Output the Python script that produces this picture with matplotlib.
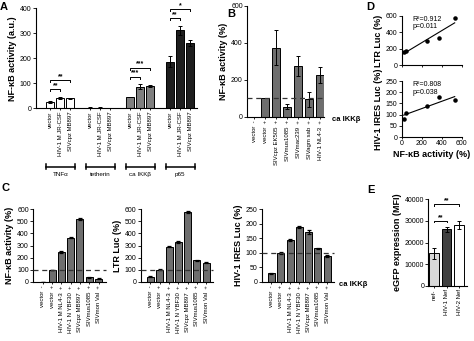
import matplotlib
matplotlib.use("Agg")
import matplotlib.pyplot as plt
import numpy as np

plt.rcParams['font.family'] = ['Liberation Sans', 'DejaVu Sans']
plt.rcParams['axes.linewidth'] = 0.8

# --- DATA ---
# panel A
a_groups = ["TNFα", "tetherin", "ca IKKβ", "p65"]
a_samples = ["vector", "HIV-1 M JR-CSF", "SIVcpz MB897"]
a_tnf = [25, 43, 40]
a_tnf_err = [4, 4, 2]
a_tetherin = [3, 3, 2]
a_tetherin_err = [0.5, 0.5, 0.5]
a_ikk = [45, 87, 90]
a_ikk_err = [1, 10, 5]
a_p65 = [187, 313, 262]
a_p65_err = [22, 18, 13]
# (group, bar i, bar j, stars)
a_sig = [(0, 0, 1, "**"), (0, 0, 2, "**"),
         (2, 0, 1, "***"), (2, 0, 2, "***"),
         (3, 0, 1, "**"), (3, 0, 2, "*")]

# panel B
b_names = ["vector", "vector", "SIVcpz EK505", "SIVmus1085",
           "SIVmac239", "SIVagm sab", "HIV-1 NL4-3"]
b_signs = ["-", "+", "+", "+", "+", "+", "+"]
b_vals = [0, 100, 375, 55, 275, 95, 225]
b_err = [0, 0, 95, 15, 55, 40, 45]

# panel C
c_names = ["vector", "vector", "HIV-1 M NL4-3", "HIV-1 N YBF30",
           "SIVcpz MB897", "SIVmus1085", "SIVmon Val"]
c_signs = ["-", "+", "+", "+", "+", "+", "+"]
c_nfkb = [0, 100, 245, 365, 520, 40, 28]
c_nfkb_err = [0, 0, 6, 4, 8, 4, 3]
c_ltr = [45, 100, 290, 330, 575, 180, 158]
c_ltr_err = [3, 3, 5, 6, 6, 4, 4]
c_ires = [30, 100, 145, 188, 172, 115, 88]
c_ires_err = [2, 4, 3, 3, 6, 2, 3]

# panel D
d_nfkb = [20, 40, 250, 370, 530]
d_ltr = [160, 170, 290, 325, 575]
d_ires = [82, 108, 137, 178, 163]
d_ltr_text = "R²=0.912\np=0.011"
d_ires_text = "R²=0.808\np=0.038"

# panel E
e_names = ["nef-", "HIV-1 Nef", "HIV-2 Nef"]
e_vals = [15000, 26000, 28000]
e_err = [2500, 1200, 2000]
e_sig = [(0, 1, "**"), (0, 2, "**")]

W, H = 474, 341
fig = plt.figure(figsize=(W / 100, H / 100), dpi=100)


def px_axes(l, t, r, b):
    ax = fig.add_axes([l / W, 1 - b / H, (r - l) / W, (b - t) / H])
    ax.spines['top'].set_visible(False)
    ax.spines['right'].set_visible(False)
    ax.tick_params(labelsize=5, length=2, width=0.6, pad=1)
    ax.tick_params(axis='x', labelsize=4.3, length=1.5)
    return ax


def sig_bracket(ax, x1, x2, y, label, tick):
    ax.plot([x1, x1, x2, x2], [y - tick, y, y, y - tick], color='black',
            lw=0.7, clip_on=False)
    ax.text((x1 + x2) / 2, y, label, ha='center', va='bottom', fontsize=5,
            fontweight='bold')


def ylab(ax, text, pad=2):
    ax.set_ylabel(text, fontsize=6.5, fontweight='bold', labelpad=pad)


def dash100(ax):
    ax.axhline(100, color='#333333', lw=0.9, ls=(0, (4, 3)), zorder=3,
               clip_on=False)


# --- PANEL A ---
ax = px_axes(35.5, 8.3, 197, 108.3)
a_data = [(a_tnf, a_tnf_err, 'white'), (a_tetherin, a_tetherin_err, 'white'),
          (a_ikk, a_ikk_err, '#7f7f7f'), (a_p65, a_p65_err, '#1e1e1e')]
ticks, labels = [], []
for g, (vals, errs, col) in enumerate(a_data):
    pos = np.arange(3) + g * 4
    ax.bar(pos, vals, width=0.8, color=col, edgecolor='black', lw=0.7,
           yerr=errs, capsize=1.5, error_kw=dict(lw=0.7, capthick=0.7))
    ticks += list(pos)
    labels += a_samples
    trans = ax.get_xaxis_transform()
    yb = -0.585
    ax.plot([pos[0] - 0.45, pos[-1] + 0.45], [yb, yb], color='black', lw=1.1,
            transform=trans, clip_on=False)
    for xe in (pos[0] - 0.45, pos[-1] + 0.45):
        ax.plot([xe, xe], [yb - 0.025, yb + 0.025], color='black', lw=1.1,
                transform=trans, clip_on=False)
    ax.text(pos[1], yb - 0.05, a_groups[g], transform=trans, ha='center',
            va='top', fontsize=4.5)
prev = {}
for g, i, j, lab in a_sig:
    vals, errs, _ = a_data[g]
    top = max(v + e for v, e in zip(vals[i:j + 1], errs[i:j + 1]))
    y = top + 30
    if g in prev:
        y = max(y, prev[g] + 36)
    prev[g] = y
    sig_bracket(ax, g * 4 + i, g * 4 + j, y, lab, 8)
ax.set_xticks(ticks, labels, rotation=90)
ax.set_xlim(-1.5, 14.7)
ax.set_ylim(0, 400)
ax.set_yticks([0, 100, 200, 300, 400])
ylab(ax, "NF-κB activity (a.u.)")
fig.text(0 / W, 1 - 2 / H, "A", fontsize=8, fontweight='bold', va='top')

# --- PANEL B ---
ax = px_axes(247, 6, 324.4, 116.7)
pos = np.arange(len(b_vals))
ax.bar(pos, b_vals, width=0.75, color='#6e6e6e', edgecolor='black', lw=0.7,
       yerr=b_err, capsize=1.5, error_kw=dict(lw=0.7, capthick=0.7))
dash100(ax)
ax.set_xticks(pos, [f"{n}  {s}" for n, s in zip(b_names, b_signs)],
              rotation=90)
ax.set_xlim(-0.65, 6.4)
ax.set_ylim(0, 600)
ax.set_yticks([0, 200, 400, 600])
ylab(ax, "NF-κB activity (%)")
ax.text(1.1, -0.025, "ca IKKβ", transform=ax.transAxes, fontsize=5.5,
        fontweight='bold', va='center', ha='left')
fig.text(227 / W, 1 - 9 / H, "B", fontsize=8, fontweight='bold', va='top')

# --- PANEL C ---
c_sets = [(33, c_nfkb, c_nfkb_err, "NF-κB activity (%)", 600, 100),
          (140.7, c_ltr, c_ltr_err, "LTR Luc (%)", 600, 100),
          (261.7, c_ires, c_ires_err, "HIV-1 IRES Luc (%)", 250, 50)]
for k, (left, vals, errs, name, ymax, step) in enumerate(c_sets):
    ax = px_axes(left, 209, left + 72.5, 282)
    pos = np.arange(len(vals))
    ax.bar(pos, vals, width=0.75, color='#6e6e6e', edgecolor='black',
           lw=0.7, yerr=errs, capsize=1.5,
           error_kw=dict(lw=0.9, capthick=0.9))
    dash100(ax)
    ax.set_xticks(pos, [f"{n}  {s}" for n, s in zip(c_names, c_signs)],
                  rotation=90)
    ax.set_xlim(-1.05, 6.75)
    ax.set_ylim(0, ymax)
    ax.set_yticks(np.arange(0, ymax + 1, step))
    ylab(ax, name)
    if k == 2:
        ax.text(1.06, -0.03, "ca IKKβ", transform=ax.transAxes,
                fontsize=5.5, fontweight='bold', va='center', ha='left')
fig.text(2 / W, 1 - 183 / H, "C", fontsize=8, fontweight='bold', va='top')

# --- PANEL D ---
d_sets = [(16, 65, d_ltr, d_ltr_text, "LTR Luc (%)", 600, 200),
          (81, 137, d_ires, d_ires_text, "HIV-1 IRES Luc (%)", 250, 50)]
for k, (top, bot, yv, txt, name, ymax, step) in enumerate(d_sets):
    ax = px_axes(401.7, top, 461.7, bot)
    ax.scatter(d_nfkb, yv, s=5, color='black', zorder=3, clip_on=False)
    slope, icpt = np.polyfit(d_nfkb, yv, 1)
    xs = np.array([min(d_nfkb), max(d_nfkb)])
    ax.plot(xs, slope * xs + icpt, color='black', lw=0.8)
    ax.set_xlim(0, 600)
    ax.set_ylim(0, ymax)
    ax.set_xticks([0, 200, 400, 600])
    ax.set_yticks(np.arange(0, ymax + 1, step))
    ax.tick_params(axis='x', labelsize=5)
    ax.text(0.18, 1.0, txt, transform=ax.transAxes, fontsize=5,
            va='top', ha='left', linespacing=1.1)
    ylab(ax, name)
    if k == 0:
        ax.set_xticklabels([])
    else:
        ax.set_xlabel("NF-κB activity (%)", fontsize=6.5, fontweight='bold',
                      labelpad=2)
fig.text(366 / W, 1 - 2 / H, "D", fontsize=8, fontweight='bold', va='top')

# --- PANEL E ---
ax = px_axes(428.3, 199, 466.7, 286)
pos = np.arange(len(e_vals))
ax.bar(pos, e_vals, width=0.75, color=['#d8d8d8', '#404040', 'white'],
       edgecolor='black', lw=0.7, yerr=e_err, capsize=1.5,
       error_kw=dict(lw=0.7, capthick=0.7))
prev = None
for i, j, lab in e_sig:
    top = max(v + e for v, e in zip(e_vals[i:j + 1], e_err[i:j + 1]))
    y = top + 2800
    if prev is not None:
        y = max(y, prev + 7500)
    prev = y
    sig_bracket(ax, i, j, y, lab, 800)
ax.set_xticks(pos, e_names, rotation=90)
ax.set_xlim(-0.46, 2.6)
ax.set_ylim(0, 40000)
ax.set_yticks([0, 10000, 20000, 30000, 40000])
ylab(ax, "eGFP expression (MFI)")
fig.text(367 / W, 1 - 185 / H, "E", fontsize=8, fontweight='bold', va='top')

fig.savefig("out.png", dpi=100)
